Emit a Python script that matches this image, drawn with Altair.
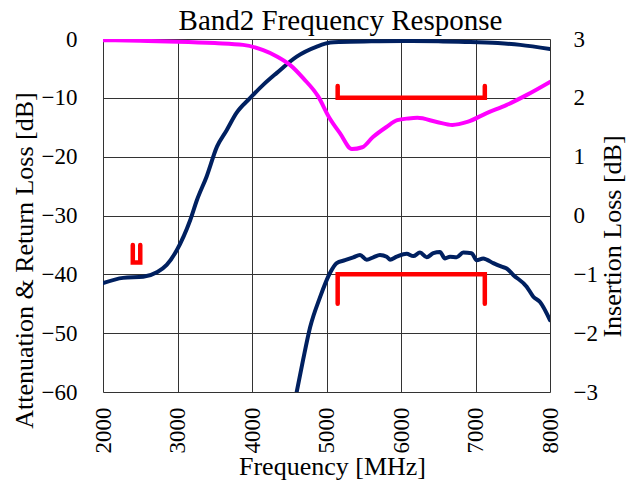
import altair as alt
import pandas as pd

FONT = "Liberation Serif"

# ---------------- data ----------------
x_ticks = [2000, 3000, 4000, 5000, 6000, 7000, 8000]
left_ticks = [-60, -50, -40, -30, -20, -10, 0]
right_ticks = [-3, -2, -1, 0, 1, 2, 3]

# Attenuation (left axis, dB)
att_freq = [2000, 2270, 2540, 2730, 2855, 2990, 3170, 3260, 3390, 3530, 3660, 3790,
            3970, 4150, 4330, 4600, 4870, 5050, 5180, 5600, 6030, 6500, 6930, 7300, 7600, 8000]
att_db = [-41.5, -40.6, -40.4, -39.6, -38.4, -35.9, -30.8, -27.4, -23.4, -18.3, -15.5, -12.6,
          -10.1, -7.8, -5.8, -3.0, -1.3, -0.6, -0.5, -0.4, -0.35, -0.4, -0.5, -0.7, -1.0, -1.7]

# Return loss (left axis, dB)
rl_freq = [2000, 2500, 3000, 3500, 3880, 4150, 4340, 4510, 4690, 4890, 5030, 5180, 5340,
           5480, 5620, 5800, 5950, 6100, 6220, 6480, 6690, 6890, 7150, 7420, 7690, 8000]
rl_db = [-0.2, -0.3, -0.45, -0.7, -1.0, -1.9, -3.0, -4.4, -6.7, -9.8, -13.2, -16.0, -18.7,
         -18.4, -16.7, -15.0, -13.8, -13.5, -13.4, -14.1, -14.6, -14.1, -12.6, -11.2, -9.5, -7.3]

# Insertion loss (right axis, dB)
il_freq = [4600, 4685, 4780, 4910, 5050, 5137, 5248, 5360, 5450, 5540, 5628, 5718, 5808,
           5852, 5942, 6076, 6165, 6255, 6345, 6434, 6523, 6591, 6658, 6747, 6836, 6948,
           7015, 7104, 7150, 7239, 7351, 7418, 7507, 7687, 7776, 7866, 8000]
il_db = [-3.0, -2.46, -1.9, -1.4, -0.97, -0.81, -0.76, -0.71, -0.67, -0.75, -0.71, -0.67, -0.70,
         -0.75, -0.70, -0.65, -0.69, -0.63, -0.71, -0.64, -0.62, -0.73, -0.70, -0.71, -0.63, -0.64,
         -0.76, -0.73, -0.75, -0.81, -0.87, -0.90, -1.01, -1.21, -1.38, -1.47, -1.78]

# Spec masks (red brackets)
mask_att_freq = [2400, 2400, 2500, 2500]
mask_att_db = [-35, -38, -38, -35]
mask_rl_freq = [5150, 5150, 7125, 7125]
mask_rl_db = [-8, -10, -10, -8]
mask_il_freq = [5150, 5150, 7125, 7125]
mask_il_db = [-1.5, -1.0, -1.0, -1.5]

TITLE = "Band2 Frequency Response"

# ---------------- tables ----------------
att_df = pd.DataFrame({"f": att_freq, "v": att_db})
rl_df = pd.DataFrame({"f": rl_freq, "v": rl_db})
il_df = pd.DataFrame({"f": il_freq, "il": il_db})
mask_left_df = pd.DataFrame({
    "f": mask_att_freq + mask_rl_freq,
    "v": mask_att_db + mask_rl_db,
    "grp": ["a"] * 4 + ["b"] * 4,
    "ord": list(range(4)) * 2,
})
mask_right_df = pd.DataFrame({"f": mask_il_freq, "il": mask_il_db, "ord": list(range(4))})

NAVY = "#002060"
MAGENTA = "#FF00FF"
RED = "#FF0000"
GRID = "#333333"

x_scale = alt.Scale(domain=[2000, 8000], nice=False, zero=False)

x_enc = alt.X(
    "f:Q",
    scale=x_scale,
    axis=alt.Axis(
        values=x_ticks, format="d", title="Frequency [MHz]", orient="bottom",
        labelAngle=270, labelFontSize=23, labelPadding=15, labelFont=FONT,
        labelColor="black", labelFlush=False, labelOverlap=False,
        ticks=False, tickSize=0, domain=False,
        grid=True, gridColor=GRID, gridWidth=1,
        titleFont=FONT, titleFontSize=26, titleFontWeight="normal", titleColor="black",
        titleX=229, titleY=82, titleAlign="center", titleBaseline="alphabetic",
    ),
)

# top axis only carries the chart title
x_top = alt.X(
    "f:Q",
    scale=x_scale,
    axis=alt.Axis(
        orient="top", labels=False, ticks=False, domain=False, grid=False,
        title=TITLE, titleFont=FONT, titleFontSize=29, titleFontWeight="normal",
        titleColor="black", titleX=237, titleY=-10, titleAlign="center",
        titleBaseline="alphabetic", titleAngle=0,
    ),
)

y_left = alt.Y(
    "v:Q",
    scale=alt.Scale(domain=[-60, 0], nice=False, zero=False),
    axis=alt.Axis(
        values=left_ticks, orient="left", title="Attenuation & Return Loss [dB]",
        labelFontSize=23, labelPadding=26, labelFont=FONT, labelColor="black",
        labelFlush=False, labelOverlap=False,
        ticks=False, tickSize=0, domain=False,
        grid=True, gridColor=GRID, gridWidth=1,
        titleFont=FONT, titleFontSize=26, titleFontWeight="normal", titleColor="black",
        titleAngle=270, titleX=-71, titleY=221, titleAlign="center", titleBaseline="alphabetic",
    ),
)

y_right = alt.Y(
    "il:Q",
    scale=alt.Scale(domain=[-3, 3], nice=False, zero=False),
    axis=alt.Axis(
        values=right_ticks, orient="right", title="Insertion Loss [dB]",
        labelFontSize=23, labelPadding=23, labelFont=FONT, labelColor="black",
        labelFlush=False, labelOverlap=False,
        ticks=False, tickSize=0, domain=False, grid=False,
        titleFont=FONT, titleFontSize=26, titleFontWeight="normal", titleColor="black",
        titleAngle=270, titleX=70, titleY=197, titleAlign="center", titleBaseline="alphabetic",
    ),
)

smooth_kw = dict(strokeWidth=4, strokeCap="round", strokeJoin="round", clip=True,
                 interpolate="monotone")
mask_kw = dict(color=RED, strokeWidth=4.5, strokeCap="round", strokeJoin="miter", clip=True)

att_line = alt.Chart(att_df).mark_line(color=NAVY, **smooth_kw).encode(x=x_enc, y=y_left)
rl_line = alt.Chart(rl_df).mark_line(color=MAGENTA, **smooth_kw).encode(x=x_enc, y=y_left)
mask_left = alt.Chart(mask_left_df).mark_line(**mask_kw).encode(
    x=x_enc, y=y_left, detail="grp:N", order="ord:Q")

il_line = alt.Chart(il_df).mark_line(color=NAVY, **smooth_kw).encode(x=x_top, y=y_right)
mask_right = alt.Chart(mask_right_df).mark_line(**mask_kw).encode(
    x=x_top, y=y_right, order="ord:Q")

left = alt.layer(att_line, rl_line, mask_left)
right = alt.layer(il_line, mask_right)

chart = alt.layer(left, right).resolve_scale(y="independent").resolve_axis(
    x="independent", y="independent"
).properties(
    width=447,
    height=353,
    autosize=alt.AutoSizeParams(type="none"),
    padding={"left": 95, "top": 31, "right": 77, "bottom": 88},
).configure_view(
    fill="#FFFFCC", stroke="black", strokeWidth=1.5
).configure(background="white")

chart.save("out.html", embed_options={"renderer": "svg", "actions": False})
